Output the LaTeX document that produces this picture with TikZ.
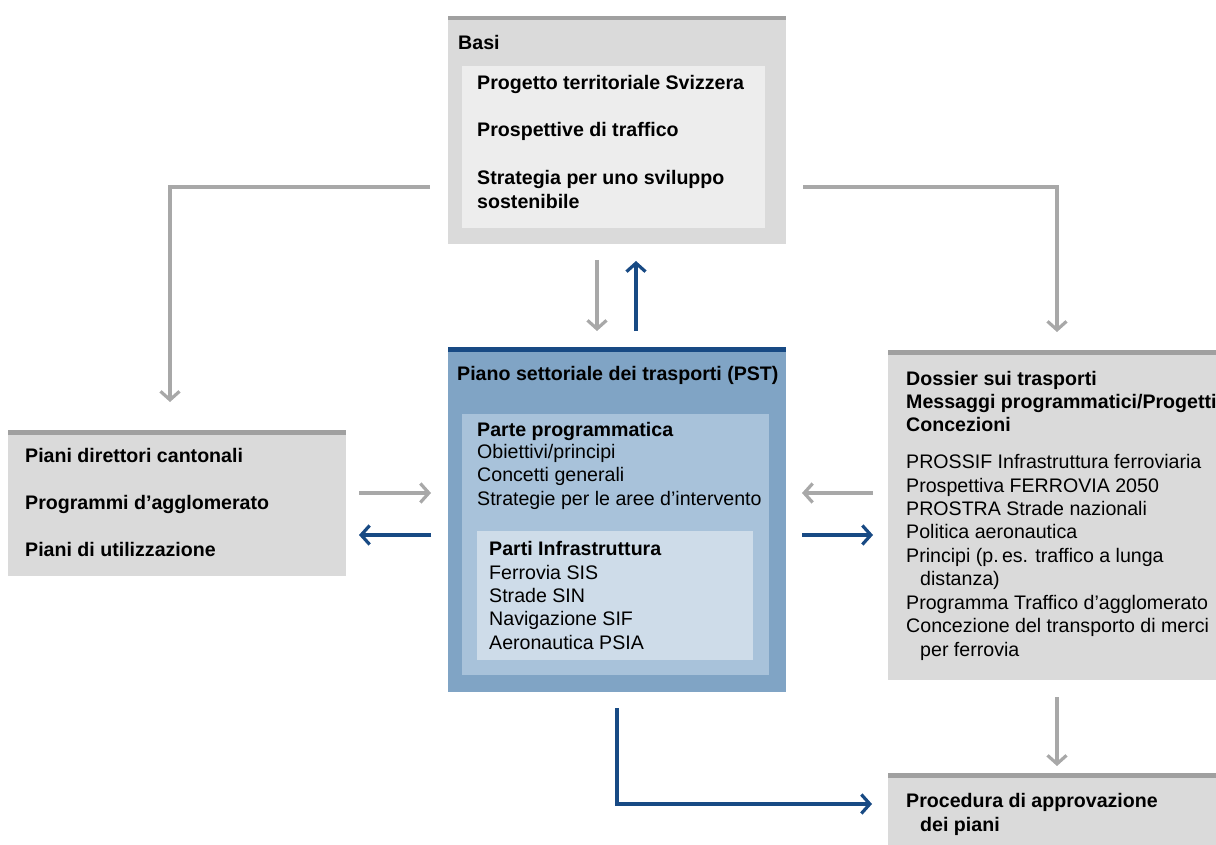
\documentclass[tikz,border=0pt]{standalone}
\usepackage{fontspec}
\setmainfont{Liberation Sans}
\usetikzlibrary{arrows.meta}
\definecolor{gbox}{RGB}{218,218,218}
\definecolor{glight}{RGB}{237,237,237}
\definecolor{gbarc}{RGB}{160,160,160}
\definecolor{garr}{RGB}{168,168,168}
\definecolor{bout}{RGB}{128,164,197}
\definecolor{bmid}{RGB}{168,194,218}
\definecolor{binn}{RGB}{206,220,233}
\definecolor{navy}{RGB}{24,74,132}
\tikzset{
  panel/.style={draw=none, inner sep=0, anchor=north west},
  gbar/.style={gbarc, line width=4.5pt},
  nbar/.style={navy, line width=5pt},
  t/.style={anchor=base west, inner sep=0, font=\fontsize{19.6}{22}\selectfont, text=black},
  tb/.style={t, font=\fontsize{19.6}{22}\selectfont\bfseries},
  garrow/.style={garr, line width=3.2pt, -{Straight Barb[length=8.5pt,width=19pt]}},
  narrow/.style={navy, line width=3.2pt, -{Straight Barb[length=8.5pt,width=19pt]}},
}
\begin{document}
\begin{tikzpicture}[x=1pt,y=-1pt]
\useasboundingbox (0,0) rectangle (1216,845);
% Basi
\node[panel, fill=gbox, minimum width=338pt, minimum height=228pt] (basi) at (448,16) {};
\draw[gbar] ([yshift=-2.25pt]basi.north west) -- ([yshift=-2.25pt]basi.north east);
\node[panel, fill=glight, minimum width=303pt, minimum height=162pt] (basiin) at (462,66) {};
\node[tb] (tbasi) at (458,50) {Basi};
\node[tb] (tb1) at (477,90) {Progetto territoriale Svizzera};
\node[tb] (tb2) at (477,137) {Prospettive di traffico};
\node[tb] (tb3) at (477,185) {Strategia per uno sviluppo};
\node[tb] (tb4) at (477,209) {sostenibile};
% PST
\node[panel, fill=bout, minimum width=338pt, minimum height=345pt] (pst) at (448,347) {};
\draw[nbar] ([yshift=-2.5pt]pst.north west) -- ([yshift=-2.5pt]pst.north east);
\node[panel, fill=bmid, minimum width=307pt, minimum height=261pt] (pstmid) at (462,414) {};
\node[panel, fill=binn, minimum width=276pt, minimum height=129pt] (pstin) at (477,531) {};
\node[tb] (tp0) at (457,380) {Piano settoriale dei trasporti (PST)};
\node[tb] (tp1) at (477,436) {Parte programmatica};
\node[t] (tp2) at (477,458) {Obiettivi/principi};
\node[t] (tp3) at (477,481) {Concetti generali};
\node[t] (tp4) at (477,505) {Strategie per le aree d’intervento};
\node[tb] (tp5) at (489,555) {Parti Infrastruttura};
\node[t] (tp6) at (489,579) {Ferrovia SIS};
\node[t] (tp7) at (489,602) {Strade SIN};
\node[t] (tp8) at (489,625) {Navigazione SIF};
\node[t] (tp9) at (489,649) {Aeronautica PSIA};
% Left
\node[panel, fill=gbox, minimum width=338pt, minimum height=146pt] (left) at (8,430) {};
\draw[gbar] ([yshift=-2.25pt]left.north west) -- ([yshift=-2.25pt]left.north east);
\node[tb] (tl1) at (25,462) {Piani direttori cantonali};
\node[tb] (tl2) at (25,509) {Programmi d’agglomerato};
\node[tb] (tl3) at (25,556) {Piani di utilizzazione};
% Right
\node[panel, fill=gbox, minimum width=340pt, minimum height=330pt] (right) at (888,350) {};
\draw[gbar] ([yshift=-2.25pt]right.north west) -- ([yshift=-2.25pt]right.north east);
\node[tb] (tr1) at (906,385) {Dossier sui trasporti};
\node[tb] (tr2) at (906,408) {Messaggi programmatici/Progetti};
\node[tb] (tr3) at (906,431) {Concezioni};
\node[t] (tr4) at (906,468) {PROSSIF Infrastruttura ferroviaria};
\node[t] (tr5) at (906,492) {Prospettiva FERROVIA 2050};
\node[t] (tr6) at (906,515) {PROSTRA Strade nazionali};
\node[t] (tr7) at (906,538) {Politica aeronautica};
\node[t] (tr8) at (906,562) {Principi (p.\,es. traffico a lunga};
\node[t] (tr9) at (920,585) {distanza)};
\node[t] (tr10) at (906,609) {Programma Traffico d’agglomerato};
\node[t] (tr11) at (906,632) {Concezione del transporto di merci};
\node[t] (tr12) at (920,656) {per ferrovia};
% Bottom right
\node[panel, fill=gbox, minimum width=340pt, minimum height=80pt] (proc) at (888,773) {};
\draw[gbar] ([yshift=-2.25pt]proc.north west) -- ([yshift=-2.25pt]proc.north east);
\node[tb] (tq1) at (906,807) {Procedura di approvazione};
\node[tb] (tq2) at (920,831) {dei piani};
% connector end points
\coordinate (a1s) at (430,187); \coordinate (a1c) at (170,187); \coordinate (a1e) at (170,402);
\coordinate (a2s) at (803,187); \coordinate (a2c) at (1057,187); \coordinate (a2e) at (1057,332);
\coordinate (a3s) at (597,260); \coordinate (a3e) at (597,331);
\coordinate (a4s) at (636,331); \coordinate (a4e) at (636,261);
\coordinate (a5s) at (359,493); \coordinate (a5e) at (431,493);
\coordinate (a6s) at (431,535); \coordinate (a6e) at (359,535);
\coordinate (a7s) at (873,493); \coordinate (a7e) at (802,493);
\coordinate (a8s) at (802,535); \coordinate (a8e) at (873,535);
\coordinate (a9s) at (1057,697); \coordinate (a9e) at (1057,766);
\coordinate (a10s) at (617,708); \coordinate (a10c) at (617,804); \coordinate (a10e) at (872,804);
% connectors
\draw[garrow] (a1s) -- (a1c) -- (a1e);
\draw[garrow] (a2s) -- (a2c) -- (a2e);
\draw[garrow] (a3s) -- (a3e);
\draw[narrow] (a4s) -- (a4e);
\draw[garrow] (a5s) -- (a5e);
\draw[narrow] (a6s) -- (a6e);
\draw[garrow] (a7s) -- (a7e);
\draw[narrow] (a8s) -- (a8e);
\draw[garrow] (a9s) -- (a9e);
\draw[narrow] (a10s) -- (a10c) -- (a10e);
\end{tikzpicture}
\end{document}
